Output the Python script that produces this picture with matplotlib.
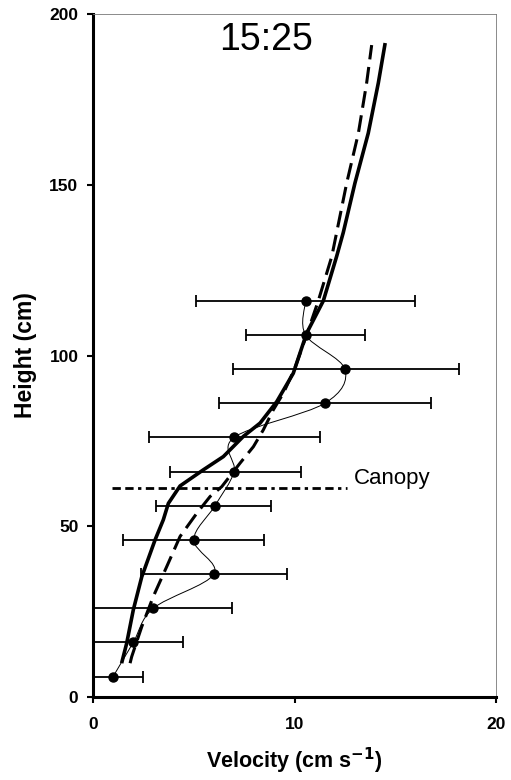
import numpy as np
import matplotlib
matplotlib.use("Agg")
import matplotlib.pyplot as plt
from matplotlib.path import Path
from matplotlib.patches import PathPatch

plt.rcParams['font.family'] = ['Liberation Sans', 'DejaVu Sans']

# Measured data (mean velocity with error bars)
heights = [6, 16, 26, 36, 46, 56, 66, 76, 86, 96, 106, 116]
velocity = [1.0, 2.0, 3.0, 6.0, 5.0, 6.05, 7.0, 7.0, 11.5, 12.5, 10.55, 10.55]
err_low = [-0.5, -0.5, -1.0, 2.4, 1.5, 3.15, 3.8, 2.78, 6.27, 6.93, 7.6, 5.1]
err_high = [2.5, 4.45, 6.9, 9.65, 8.5, 8.83, 10.3, 11.25, 16.75, 18.15, 13.5, 16.0]

# Model profile (solid)
solid_y = [9.9, 15.7, 25.5, 35.2, 46, 51.9, 56.7, 61.8, 66.5, 70.4, 76.3, 80.2, 86.5,
           94.8, 106.5, 116, 129, 136, 150.5, 165.1, 179.8, 191.5]
solid_x = [1.42, 1.67, 2.0, 2.42, 3.08, 3.49, 3.74, 4.32, 5.47, 6.47, 7.46, 8.29, 9.12,
           9.94, 10.6, 11.43, 12.09, 12.42, 13.0, 13.66, 14.16, 14.5]

# Model profile (dashed)
dash_y = [9.9, 11.8, 20.6, 29.4, 38.2, 47, 53.8, 58.7, 61.6, 68.5, 73.3, 78.2, 84.1, 89,
          96, 106, 116, 129, 150.5, 165.1, 179.8, 190.9]
dash_x = [1.84, 1.92, 2.42, 2.99, 3.66, 4.32, 5.15, 5.81, 6.39, 7.3, 7.96, 8.45, 8.95, 9.45,
          10.0, 10.6, 11.18, 11.85, 12.59, 13.17, 13.58, 13.83]

canopy_height = 61.2
canopy_x = [0.93, 12.6]

fig = plt.figure(figsize=(5.11, 7.80), dpi=100)
ax = fig.add_axes([93/511, 1 - 697/780, (496-93)/511, (697-14)/780])
ax.set_xlim(0, 20)
ax.set_ylim(0, 200)

# Smooth thin line through data points (Catmull-Rom as cubic Bezier)
pts = np.column_stack([velocity, heights]).astype(float)
verts = [tuple(pts[0])]
codes = [Path.MOVETO]
n = len(pts)
for i in range(n - 1):
    p0 = pts[i - 1] if i > 0 else pts[i]
    p1 = pts[i]
    p2 = pts[i + 1]
    p3 = pts[i + 2] if i + 2 < n else pts[i + 1]
    c1 = p1 + (p2 - p0) / 6.0
    c2 = p2 - (p3 - p1) / 6.0
    verts += [tuple(c1), tuple(c2), tuple(p2)]
    codes += [Path.CURVE4] * 3
ax.add_patch(PathPatch(Path(verts, codes), facecolor='none', edgecolor='black', lw=0.7, zorder=3))

# Error bars
xerr = [np.array(velocity) - np.array(err_low), np.array(err_high) - np.array(velocity)]
ax.errorbar(velocity, heights, xerr=xerr, fmt='o', color='black', ms=6.5,
            elinewidth=1.3, capsize=4, capthick=1.3, zorder=4, clip_on=True)

# Model lines
ax.plot(solid_x, solid_y, color='black', lw=2.6, zorder=5, solid_capstyle='butt')
ax.plot(dash_x, dash_y, color='black', lw=2.2, dashes=(5.5, 2.5), zorder=5)

# Canopy line
ax.plot(canopy_x, [canopy_height, canopy_height], color='black', lw=2.0,
        dashes=(3, 1.6, 3, 1.6, 1.2, 1.6), zorder=2)
ax.text(12.95, canopy_height + 2.8, 'Canopy', fontsize=16, va='center', ha='left')

ax.text(8.6, 192.5, '15:25', fontsize=27, ha='center', va='center')

# Axes styling
ax.set_xticks([0, 10, 20])
ax.set_yticks([0, 50, 100, 150, 200])
ax.tick_params(axis='both', direction='out', length=4.5, width=1.5, labelsize=12.5)
for lab in ax.get_xticklabels() + ax.get_yticklabels():
    lab.set_fontweight('bold')
ax.tick_params(axis='x', pad=10)
ax.tick_params(axis='y', pad=6)
ax.spines['left'].set_linewidth(2.2)
ax.spines['bottom'].set_linewidth(2.2)
ax.spines['top'].set_linewidth(0.6)
ax.spines['right'].set_linewidth(0.6)
ax.spines['top'].set_color('#777777')
ax.spines['right'].set_color('#777777')

ax.set_xlabel('Velocity (cm s$^{\\mathbf{-1}}$)', fontsize=15.5, fontweight='bold', labelpad=10)
ax.set_ylabel('Height (cm)', fontsize=16.5, fontweight='bold', labelpad=9)

fig.savefig('out.png', dpi=100)
